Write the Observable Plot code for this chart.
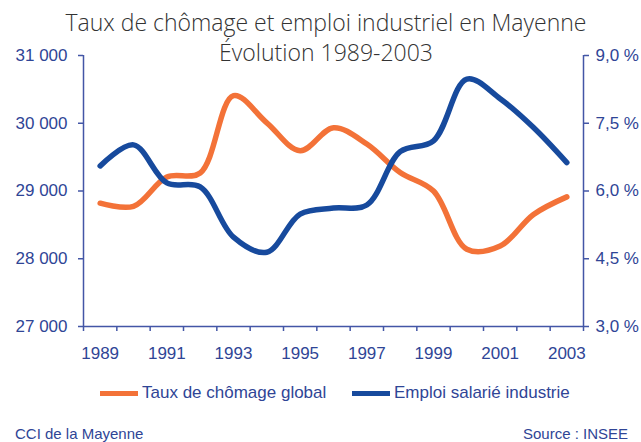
<!DOCTYPE html>
<html>
<head>
<meta charset="utf-8">
<script src="https://cdn.jsdelivr.net/npm/d3@7"></script>
<script src="https://cdn.jsdelivr.net/npm/@observablehq/plot@0.6"></script>
<style>
  html, body { margin: 0; padding: 0; background: #ffffff; }
  #wrap { position: relative; width: 641px; height: 442px; overflow: hidden; font-family: "Liberation Sans", Arial, sans-serif; }
  #chart { position: absolute; left: 0; top: 0; }
  .title { position: absolute; left: 0; width: 652px; text-align: center; font-family: "Open Sans", sans-serif; font-weight: 300; font-size: 23px; line-height: 30px; color: #333; white-space: nowrap; }
  .legend { position: absolute; top: 382px; left: 0; width: 641px; font-size: 17px; color: #2f4596; }
  .legend .item { position: absolute; top: 0; display: flex; align-items: center; height: 22px; white-space: nowrap; }
  .legend .sw { display: inline-block; width: 38px; height: 5px; margin-right: 4px; }
  .foot { position: absolute; top: 425px; font-size: 15px; color: #2f4596; white-space: nowrap; }
</style>
</head>
<body>
<div id="wrap">
  <div id="chart"></div>
  <div class="title" id="t1" style="top:7px"></div>
  <div class="title" id="t2" style="top:37px"></div>
  <div class="legend">
    <div class="item" style="left:100px"><span class="sw" id="sw1"></span><span id="l1"></span></div>
    <div class="item" style="left:352px"><span class="sw" id="sw2"></span><span id="l2"></span></div>
  </div>
  <div class="foot" id="f1" style="left:15px"></div>
  <div class="foot" id="f2" style="right:13px"></div>
</div>
<script>
const titleText = "Taux de chômage et emploi industriel en Mayenne";
const subtitleText = "Évolution 1989-2003";
const seriesNames = ["Taux de chômage global", "Emploi salarié industrie"];
const footLeft = "CCI de la Mayenne";
const footRight = "Source : INSEE";

const years = [1989, 1990, 1991, 1992, 1993, 1994, 1995, 1996, 1997, 1998, 1999, 2000, 2001, 2002, 2003];
const chomage = [5.73, 5.66, 6.31, 6.40, 8.11, 7.51, 6.89, 7.40, 7.04, 6.41, 6.00, 4.71, 4.78, 5.48, 5.87];
const emploi = [29370, 29681, 29119, 29060, 28319, 28096, 28659, 28748, 28793, 29580, 29741, 30652, 30363, 29938, 29420];
const xLabelYears = [1989, 1991, 1993, 1995, 1997, 1999, 2001, 2003];
const leftTicks = [27000, 28000, 29000, 30000, 31000];
const rightTicks = [3.0, 4.5, 6.0, 7.5, 9.0];

const orange = "#f37238";
const blue = "#174a9d";
const axisColor = "#4356a6";
const textColor = "#2f4596";

const leftDomain = [27000, 31000];
const rightDomain = [3.0, 9.0];
const toLeft = p => leftDomain[0] + (p - rightDomain[0]) * (leftDomain[1] - leftDomain[0]) / (rightDomain[1] - rightDomain[0]);
const toRight = v => rightDomain[0] + (v - leftDomain[0]) * (rightDomain[1] - rightDomain[0]) / (leftDomain[1] - leftDomain[0]);

const chomRows = years.map((y, i) => ({year: y, v: toLeft(chomage[i])}));
const emploiRows = years.map((y, i) => ({year: y, v: emploi[i]}));
const xBounds = d3.range(years.length + 1).map(i => years[0] - 0.5 + i);
const xDomain = [years[0] - 0.5, years[years.length - 1] + 0.5];

document.getElementById("t1").textContent = titleText;
document.getElementById("t2").textContent = subtitleText;
document.getElementById("l1").textContent = seriesNames[0];
document.getElementById("l2").textContent = seriesNames[1];
document.getElementById("sw1").style.background = orange;
document.getElementById("sw2").style.background = blue;
document.getElementById("f1").textContent = footLeft;
document.getElementById("f2").textContent = footRight;

const fmtLeft = d => d3.format(",")(d).replace(/,/g, " ");
const fmtRight = d => toRight(d).toFixed(1).replace(".", ",") + " %";

const chart = Plot.plot({
  width: 641,
  height: 442,
  marginTop: 55,
  marginBottom: 116,
  marginLeft: 83,
  marginRight: 58,
  style: {fontFamily: "Liberation Sans, Arial, sans-serif", fontSize: "17px", background: "transparent"},
  x: {domain: xDomain},
  y: {domain: leftDomain},
  marks: [
    Plot.ruleY([leftDomain[0]], {stroke: axisColor, strokeWidth: 1.5}),
    Plot.ruleX(xDomain, {stroke: axisColor, strokeWidth: 1.5}),
    Plot.axisX({ticks: xBounds, tickFormat: () => "", tickSize: 5, stroke: axisColor, strokeWidth: 1.5, label: null}),
    Plot.axisX({ticks: xLabelYears, tickFormat: d => String(d), tickSize: 0, tickPadding: 20, fill: textColor, label: null}),
    Plot.axisY({anchor: "left", ticks: leftTicks, tickFormat: fmtLeft, tickSize: 5, tickPadding: 11, stroke: axisColor, fill: textColor, strokeWidth: 1.5, label: null}),
    Plot.axisY({anchor: "right", ticks: rightTicks.map(toLeft), tickFormat: fmtRight, tickSize: 5, tickPadding: 7, stroke: axisColor, fill: textColor, strokeWidth: 1.5, label: null}),
    Plot.line(chomRows, {x: "year", y: "v", stroke: orange, strokeWidth: 5.5, curve: "catmull-rom"}),
    Plot.line(emploiRows, {x: "year", y: "v", stroke: blue, strokeWidth: 5.5, curve: "catmull-rom"})
  ]
});
document.getElementById("chart").appendChild(chart);
</script>
</body>
</html>
